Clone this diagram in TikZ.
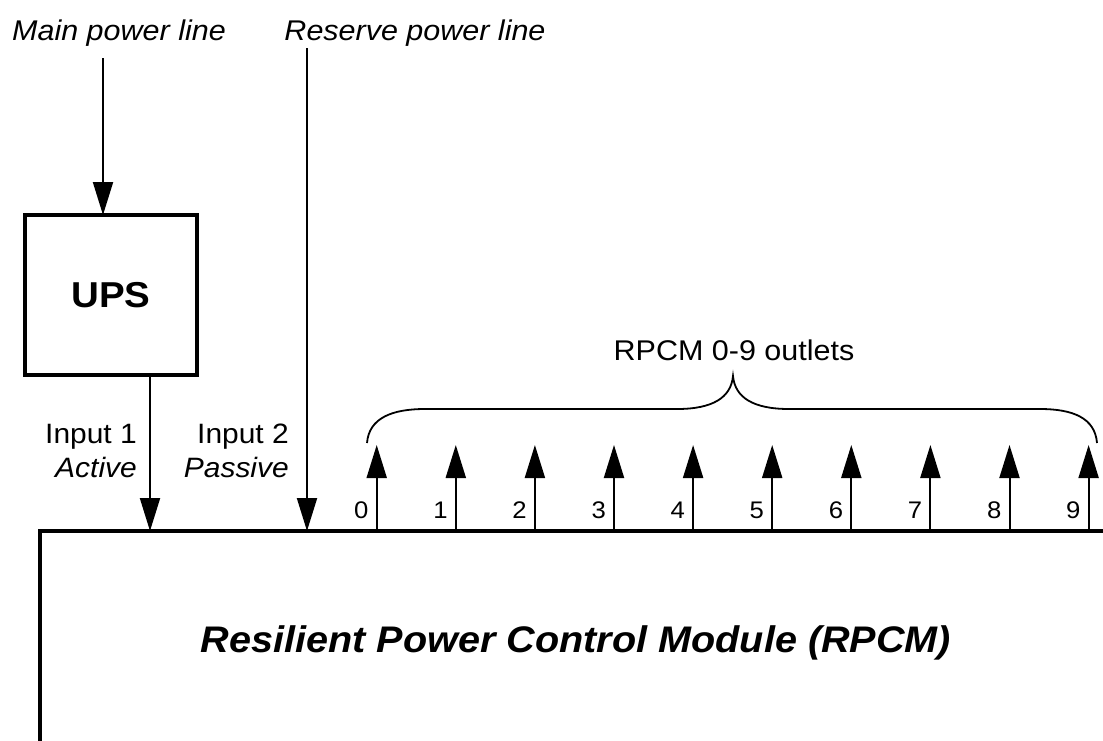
\documentclass[tikz,border=0pt]{standalone}
\usepackage{fontspec}
\setmainfont{Liberation Sans}[FakeStretch=1.07]
\usetikzlibrary{arrows.meta,calc}
\begin{document}
\begin{tikzpicture}[x=1pt,y=-1pt,
  arr/.style={line width=2pt,-{Triangle[width=20pt,length=33pt]}},
  thickbox/.style={draw, line width=4pt, outer sep=0pt, inner sep=0pt},
  toptxt/.style={inner sep=0pt, anchor=base, font=\fontsize{28.5}{34}\selectfont\itshape},
  inlbl/.style={inner sep=0pt, anchor=base east, font=\fontsize{28}{34}\selectfont},
  digit/.style={inner sep=0pt, anchor=base east, font=\fontsize{24}{28}\selectfont},
  bracepath/.style={line width=1.8pt}]
\useasboundingbox (0,0) rectangle (1103,740);
\clip (0,0) rectangle (1103,740);

% top labels
\node[toptxt] (mainlbl) at (119,40) {Main power line};
\node[toptxt] (reslbl) at (415,40) {Reserve power line};

% UPS
\node[thickbox, minimum width=172pt, minimum height=160pt,
      font=\fontsize{36}{40}\selectfont\bfseries] (ups) at (111,295) {UPS};

% RPCM module
\node[thickbox, minimum width=1200pt, minimum height=400pt, anchor=north west] (rpcm) at (40,531) {};
\node[inner sep=0pt, anchor=base, font=\fontsize{37}{42}\selectfont\bfseries\itshape] (rpcmtxt) at (576,652)
  {Resilient Power Control Module (RPCM)};

% main power line -> UPS
\coordinate (mainsrc) at (103,58);
\draw[arr] (mainsrc) -- (mainsrc |- ups.north);

% UPS -> RPCM (input 1)
\coordinate (in1) at (150,531);
\draw[arr] (in1 |- ups.south) -- (in1 |- rpcm.north);

% reserve line -> RPCM (input 2)
\coordinate (ressrc) at (307,48);
\draw[arr] (ressrc) -- (ressrc |- rpcm.north);

% input labels
\node[inlbl] (in1a) at (137,443) {Input 1};
\node[inlbl] (in1b) at (137,477) {\itshape Active};
\node[inlbl] (in2a) at (289,443) {Input 2};
\node[inlbl] (in2b) at (289,477) {\itshape Passive};

% outlets
\foreach \i in {0,...,9}{
  \coordinate (t\i) at ({376.7+79.1*\i},445);
  \draw[arr] (t\i |- rpcm.north) -- (t\i);
  \node[digit] (d\i) at ({376.7+79.1*\i-8},518) {\i};
}

% brace
\draw[bracepath] (367,443) .. controls (369,418) and (392,409) .. (425,409)
  -- (677,409) .. controls (712,409) and (731,398) .. (733,376)
  .. controls (735,398) and (754,409) .. (789,409)
  -- (1040,409) .. controls (1073,409) and (1095,418) .. (1097,443);
\node[inner sep=0pt, anchor=base, font=\fontsize{28.5}{34}\selectfont] (outlbl) at (734,360) {RPCM 0-9 outlets};
\end{tikzpicture}
\end{document}
